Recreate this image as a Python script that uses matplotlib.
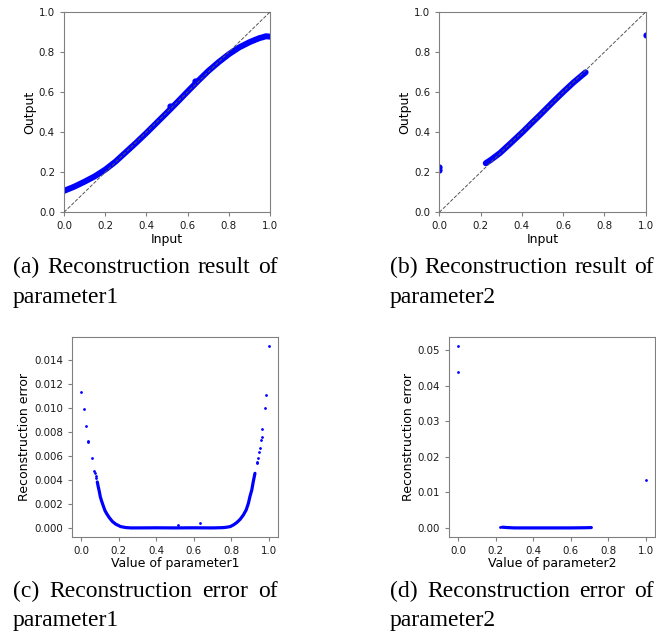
import matplotlib
matplotlib.use('Agg')
import matplotlib.pyplot as plt

# ---- parameter1: reconstruction (input -> output)
p1_in = [0.0, 0.05, 0.1, 0.15, 0.2, 0.25, 0.3, 0.35, 0.4, 0.45, 0.5, 0.55,
         0.6, 0.65, 0.7, 0.75, 0.8, 0.85, 0.9, 0.93, 0.95, 0.965, 0.98, 1.0]
p1_out = [0.107, 0.128, 0.153, 0.180, 0.213, 0.253, 0.300, 0.347, 0.396, 0.447, 0.498, 0.550,
          0.603, 0.655, 0.705, 0.749, 0.789, 0.823, 0.849, 0.862, 0.870, 0.874, 0.879, 0.877]
p1_out_x = [0.515, 0.634]
p1_out_y = [0.531, 0.655]

# ---- parameter1: reconstruction error, panel (c)
err1_dense_x = [0.085, 0.09, 0.096, 0.101, 0.108, 0.117, 0.126, 0.136, 0.149, 0.166, 0.184,
                0.21, 0.237, 0.264, 0.3, 0.4, 0.5, 0.6, 0.7, 0.75, 0.768, 0.795, 0.812,
                0.83, 0.848, 0.865, 0.88, 0.892, 0.9, 0.91, 0.918, 0.927]
err1_dense = [0.00384, 0.00345, 0.00303, 0.00261, 0.00225, 0.00184, 0.00145, 0.00117,
              0.00086, 0.00053, 0.00031, 0.00011, 0.00003, 0.0, 0.0, 0.00001, 0.0, 0.00001,
              0.0, 0.00002, 0.00004, 0.00011, 0.00025, 0.00045, 0.00072, 0.00108, 0.0015,
              0.00206, 0.00261, 0.00317, 0.00387, 0.00456]
err1_sparse_x = [0.0, 0.0124, 0.0248, 0.037, 0.038, 0.055, 0.069, 0.0726, 0.076, 0.0796,
                 0.515, 0.634,
                 0.936, 0.94, 0.943, 0.95, 0.954, 0.959, 0.963, 0.965, 0.979, 0.985, 1.0]
err1_sparse = [0.01135, 0.00993, 0.00854, 0.00729, 0.0072, 0.00581, 0.00476, 0.00456,
               0.00434, 0.00415,
               0.00025, 0.00042,
               0.0054, 0.00548, 0.00581, 0.00637, 0.0067, 0.00732, 0.00762, 0.00823,
               0.00999, 0.0111, 0.01519]

# ---- parameter2: reconstruction, panel (b)
p2_in = [0.225, 0.25, 0.294, 0.35, 0.407, 0.45, 0.488, 0.55, 0.601, 0.65, 0.709]
p2_out = [0.245, 0.262, 0.296, 0.349, 0.404, 0.448, 0.486, 0.550, 0.601, 0.648, 0.699]
p2_iso_x = [0.0, 0.0, 1.0]
p2_iso_y = [0.226, 0.210, 0.885]

# ---- parameter2: reconstruction error, panel (d)
err2_dense_x = [0.235, 0.26, 0.3, 0.4, 0.5, 0.6, 0.68, 0.71]
err2_dense = [0.0002, 0.0001, 0.0, 0.0, 0.0, 0.0, 0.00005, 0.0001]
err2_sparse_x = [0.0, 0.0, 0.223, 1.0]
err2_sparse = [0.0511, 0.0439, 0.00035, 0.01337]

captions = [
    ("(a) Reconstruction result of", "parameter1"),
    ("(b) Reconstruction result of", "parameter2"),
    ("(c) Reconstruction error of", "parameter1"),
    ("(d) Reconstruction error of", "parameter2"),
]

W, H = 656, 631
BLUE = '#0000ff'
fig = plt.figure(figsize=(W / 100, H / 100), dpi=100)


def px_axes(left, top, right, bottom):
    return fig.add_axes([left / W, 1 - bottom / H, (right - left) / W, (bottom - top) / H])


def style(ax):
    for s in ax.spines.values():
        s.set_color('#808080')
        s.set_linewidth(0.8)
    ax.tick_params(labelsize=7.4, color='#808080', labelcolor='#1a1a1a', length=3)


ax_a = px_axes(64, 12, 270, 212.3)
ax_b = px_axes(439.3, 12, 645.7, 212.3)
ax_c = px_axes(72, 337, 278, 537)
ax_d = px_axes(449, 337, 655, 537)

# (a)
ax_a.plot(p1_in, p1_out, '-', color=BLUE, lw=4.3, solid_capstyle='round')
ax_a.plot(p1_out_x, p1_out_y, 'o', color=BLUE, ms=4.5, mew=0)
# (b)
ax_b.plot(p2_in, p2_out, '-', color=BLUE, lw=4.3, solid_capstyle='round')
ax_b.plot(p2_iso_x, p2_iso_y, 'o', color=BLUE, ms=4.5, mew=0)
for ax in (ax_a, ax_b):
    # identity reference line sits on top of the points
    ax.plot([0, 1], [0, 1], '--', color='#555555', lw=0.7, zorder=5)
    ax.set_xlim(0, 1)
    ax.set_ylim(0, 1)
    ax.set_xticks([0, 0.2, 0.4, 0.6, 0.8, 1.0])
    ax.set_yticks([0, 0.2, 0.4, 0.6, 0.8, 1.0])
    ax.set_xlabel('Input', fontsize=9, labelpad=1)
    ax.set_ylabel('Output', fontsize=9, labelpad=2)
    style(ax)

# (c)
ax_c.plot(err1_dense_x, err1_dense, '-', color=BLUE, lw=2.3, solid_capstyle='round')
ax_c.plot(err1_sparse_x, err1_sparse, 'o', color=BLUE, ms=2.0, mew=0)
ax_c.set_yticks([0, 0.002, 0.004, 0.006, 0.008, 0.010, 0.012, 0.014])
ax_c.set_xlabel('Value of parameter1', fontsize=9, labelpad=1)
# (d)
ax_d.plot(err2_dense_x, err2_dense, '-', color=BLUE, lw=2.3, solid_capstyle='round')
ax_d.plot(err2_sparse_x, err2_sparse, 'o', color=BLUE, ms=2.0, mew=0)
ax_d.set_yticks([0, 0.01, 0.02, 0.03, 0.04, 0.05])
ax_d.set_xlabel('Value of parameter2', fontsize=9, labelpad=1)
for ax in (ax_c, ax_d):
    ax.set_xticks([0, 0.2, 0.4, 0.6, 0.8, 1.0])
    ax.set_ylabel('Reconstruction error', fontsize=9, labelpad=2)
    style(ax)
ax_c.yaxis.set_major_formatter(matplotlib.ticker.FormatStrFormatter('%.3f'))
ax_d.yaxis.set_major_formatter(matplotlib.ticker.FormatStrFormatter('%.2f'))

# captions, first line justified over the column width
renderer = fig.canvas.get_renderer()
cap_font = dict(family='Liberation Serif', fontsize=17, color='black', va='baseline')
columns = [(13, 278), (390, 654), (13, 278), (390, 654)]
baselines = [(273, 303), (273, 303), (597, 626), (597, 626)]
for (line1, line2), (x0, x1), (b1, b2) in zip(captions, columns, baselines):
    words = line1.split()
    texts = [fig.text(0, 1 - b1 / H, w, **cap_font) for w in words]
    widths = [t.get_window_extent(renderer).width for t in texts]
    gap = (x1 - x0 - sum(widths)) / (len(words) - 1)
    x = x0
    for t, wd in zip(texts, widths):
        t.set_x(x / W)
        x += wd + gap
    fig.text(x0 / W, 1 - b2 / H, line2, **cap_font)

fig.savefig('out.png', dpi=100)
